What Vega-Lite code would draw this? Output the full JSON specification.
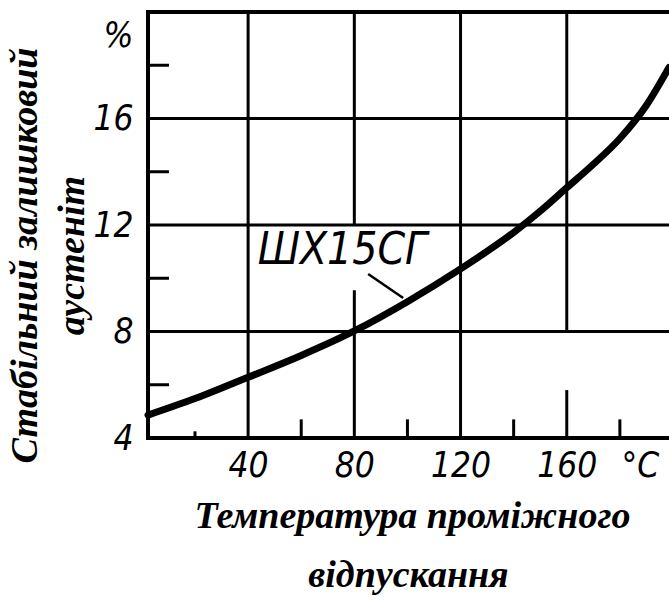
{
  "$schema": "https://vega.github.io/schema/vega-lite/v6.json",
  "width": 521,
  "height": 426,
  "autosize": "none",
  "padding": {"left": 148, "top": 12, "right": 0, "bottom": 162},
  "background": "white",
  "config": {"view": {"stroke": null}},
  "title": {"text": "відпускання", "orient": "bottom", "anchor": "middle", "font": "Liberation Serif", "fontSize": 38, "fontWeight": "bold", "fontStyle": "italic", "color": "black", "offset": 22},
  "datasets": {
    "curve": [
      {"t": 2.3, "pct": 4.86}, {"t": 20, "pct": 5.48}, {"t": 40, "pct": 6.28}, {"t": 60, "pct": 7.1},
      {"t": 80, "pct": 8.02}, {"t": 100, "pct": 9.12}, {"t": 120, "pct": 10.35}, {"t": 140, "pct": 11.72},
      {"t": 150, "pct": 12.52}, {"t": 160, "pct": 13.4}, {"t": 170, "pct": 14.28}, {"t": 180, "pct": 15.25},
      {"t": 190, "pct": 16.5}, {"t": 198.5, "pct": 17.92}
    ],
    "frame": [
      {"x": 2.3, "x2": 2.3, "y": 4, "y2": 20},
      {"x": 2.3, "x2": 198.5, "y": 4, "y2": 4},
      {"x": 2.3, "x2": 198.5, "y": 20, "y2": 20}
    ],
    "grid": [
      {"x": 2.3, "x2": 198.5, "y": 8, "y2": 8},
      {"x": 2.3, "x2": 198.5, "y": 12, "y2": 12},
      {"x": 2.3, "x2": 198.5, "y": 16, "y2": 16},
      {"x": 40, "x2": 40, "y": 4, "y2": 20},
      {"x": 80, "x2": 80, "y": 4, "y2": 9.55},
      {"x": 80, "x2": 80, "y": 12, "y2": 20},
      {"x": 120, "x2": 120, "y": 4, "y2": 20},
      {"x": 160, "x2": 160, "y": 4, "y2": 5.8},
      {"x": 160, "x2": 160, "y": 8, "y2": 20}
    ],
    "ticks": [
      {"x": 20, "x2": 20, "y": 4, "y2": 4.25},
      {"x": 60, "x2": 60, "y": 4, "y2": 4.7},
      {"x": 100, "x2": 100, "y": 4, "y2": 4.7},
      {"x": 140, "x2": 140, "y": 4, "y2": 4.7},
      {"x": 180, "x2": 180, "y": 4, "y2": 4.7},
      {"x": 2.3, "x2": 10.2, "y": 6, "y2": 6},
      {"x": 2.3, "x2": 10.2, "y": 10, "y2": 10},
      {"x": 2.3, "x2": 10.2, "y": 14, "y2": 14},
      {"x": 2.3, "x2": 10.2, "y": 18, "y2": 18}
    ],
    "label": [{"t": 75.5, "pct": 11.02, "name": "ШХ15СГ"}],
    "leader": [{"x": 85.2, "x2": 98.4, "y": 10.16, "y2": 9.26}]
  },
  "layer": [
    {
      "data": {"name": "curve"},
      "mark": {"type": "line", "interpolate": "monotone", "color": "black", "strokeWidth": 7, "strokeCap": "round"},
      "encoding": {
        "x": {"field": "t", "type": "quantitative", "scale": {"domain": [2.3, 198.5], "nice": false, "zero": false},
          "axis": {"values": [40, 80, 120, 160, 187.5], "labelExpr": "datum.value > 180 ? '°C' : datum.label", "grid": false, "ticks": false, "domain": false,
            "labelFont": "Liberation Sans Narrow, DejaVu Sans Condensed, sans-serif", "labelFontStyle": "italic", "labelFontSize": 35, "labelColor": "black", "labelPadding": 10,
            "title": "Температура проміжного", "titleFont": "Liberation Serif", "titleFontSize": 38, "titleFontWeight": "bold", "titleFontStyle": "italic", "titleColor": "black",
            "titleX": 264, "titleY": 89, "titleAlign": "center", "titleBaseline": "alphabetic", "titleAnchor": null}},
        "y": {"field": "pct", "type": "quantitative", "scale": {"domain": [4, 20], "nice": false, "zero": false},
          "axis": {"values": [4, 8, 12, 16, 19.1], "labelExpr": "datum.value > 19 ? '%' : datum.label", "grid": false, "ticks": false, "domain": false,
            "labelFont": "Liberation Sans Narrow, DejaVu Sans Condensed, sans-serif", "labelFontStyle": "italic", "labelFontSize": 35, "labelColor": "black", "labelPadding": 15,
            "title": ["Стабільний залишковий", "аустеніт"], "titleFont": "Liberation Serif", "titleFontSize": 38, "titleFontWeight": "bold", "titleFontStyle": "italic", "titleColor": "black",
            "titleX": -104, "titleY": 243, "titleAlign": "center", "titleBaseline": "bottom", "titleLineHeight": 47, "titleAngle": -90, "titleAnchor": null}}
      }
    },
    {
      "data": {"name": "frame"},
      "mark": {"type": "rule", "color": "black", "strokeWidth": 4, "strokeCap": "square"},
      "encoding": {"x": {"field": "x", "type": "quantitative"}, "x2": {"field": "x2"}, "y": {"field": "y", "type": "quantitative"}, "y2": {"field": "y2"}}
    },
    {
      "data": {"name": "grid"},
      "mark": {"type": "rule", "color": "black", "strokeWidth": 3},
      "encoding": {"x": {"field": "x", "type": "quantitative"}, "x2": {"field": "x2"}, "y": {"field": "y", "type": "quantitative"}, "y2": {"field": "y2"}}
    },
    {
      "data": {"name": "ticks"},
      "mark": {"type": "rule", "color": "black", "strokeWidth": 3},
      "encoding": {"x": {"field": "x", "type": "quantitative"}, "x2": {"field": "x2"}, "y": {"field": "y", "type": "quantitative"}, "y2": {"field": "y2"}}
    },
    {
      "data": {"name": "leader"},
      "mark": {"type": "rule", "color": "black", "strokeWidth": 2.5},
      "encoding": {"x": {"field": "x", "type": "quantitative"}, "x2": {"field": "x2"}, "y": {"field": "y", "type": "quantitative"}, "y2": {"field": "y2"}}
    },
    {
      "data": {"name": "label"},
      "mark": {"type": "text", "font": "Liberation Sans Narrow, DejaVu Sans Condensed, sans-serif", "fontStyle": "italic", "fontSize": 44, "color": "black", "align": "center", "baseline": "middle"},
      "encoding": {"x": {"field": "t", "type": "quantitative"}, "y": {"field": "pct", "type": "quantitative"}, "text": {"field": "name"}}
    }
  ]
}
